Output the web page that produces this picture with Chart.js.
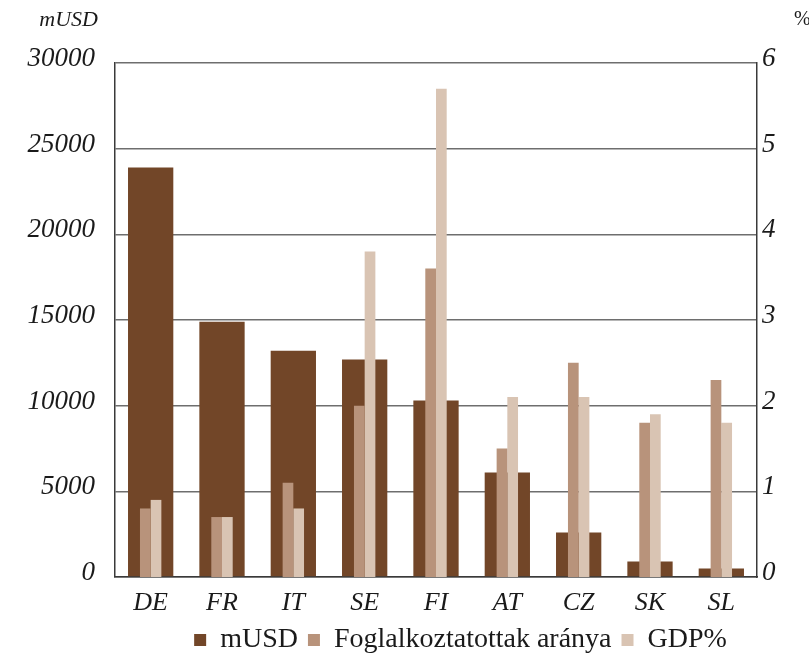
<!DOCTYPE html>
<html>
<head>
<meta charset="utf-8">
<script src="https://cdn.jsdelivr.net/npm/chart.js@4.4.1/dist/chart.umd.min.js"></script>
<style>
  html, body { margin: 0; padding: 0; background: #ffffff; }
  #wrap { width: 809px; height: 654px; }
</style>
</head>
<body>
<div id="wrap"><canvas id="c" width="809" height="654"></canvas></div>
<script>
// Countries on the category axis
const countries = ['DE', 'FR', 'IT', 'SE', 'FI', 'AT', 'CZ', 'SK', 'SL'];

// Left axis: million USD
const musd = [23900, 14900, 13200, 12700, 10300, 6100, 2600, 900, 500];

// Right axis: percentages
const employmentShare = [0.8, 0.7, 1.1, 2.0, 3.6, 1.5, 2.5, 1.8, 2.3];
const gdpShare = [0.9, 0.7, 0.8, 3.8, 5.7, 2.1, 2.1, 1.9, 1.8];

// Axis ranges and steps
const leftMax = 30000, leftStep = 5000;
const rightMax = 6, rightStep = 1;

const serif = "'Liberation Serif', 'Times New Roman', serif";
const textColor = '#1a1a1a';

// Unit captions above both value axes
const unitCaptions = {
  id: 'unitCaptions',
  afterDraw(chart) {
    const { ctx, chartArea } = chart;
    ctx.save();
    ctx.fillStyle = textColor;
    ctx.font = `italic 22px ${serif}`;
    ctx.textBaseline = 'middle';
    ctx.textAlign = 'right';
    ctx.fillText('mUSD', chartArea.left - 17, 20);
    ctx.textAlign = 'left';
    ctx.font = `20px ${serif}`;
    ctx.fillText('%', chartArea.right + 37, 20);
    ctx.restore();
  }
};

// Nudge the legend row a little to the right of the canvas centre
const legendShift = {
  id: 'legendShift',
  afterLayout(chart) {
    const lg = chart.legend;
    if (lg) { lg.left += 56; lg.right += 56; }
  }
};

new Chart(document.getElementById('c'), {
  type: 'bar',
  data: {
    labels: countries,
    datasets: [
      {
        // wide background bar, centred on each category
        label: 'mUSD',
        data: musd,
        backgroundColor: '#724628',
        borderWidth: 0,
        yAxisID: 'y',
        grouped: false,
        categoryPercentage: 1.0,
        barPercentage: 0.635,
        order: 2
      },
      {
        label: 'Foglalkoztatottak aránya',
        data: employmentShare,
        backgroundColor: '#b8937b',
        borderWidth: 0,
        yAxisID: 'y2',
        categoryPercentage: 0.3,
        barPercentage: 1.0,
        order: 0
      },
      {
        label: 'GDP%',
        data: gdpShare,
        backgroundColor: '#d9c4b3',
        borderWidth: 0,
        yAxisID: 'y2',
        categoryPercentage: 0.3,
        barPercentage: 1.0,
        order: 1
      }
    ]
  },
  options: {
    responsive: false,
    animation: false,
    devicePixelRatio: 1,
    layout: { padding: { top: 63, left: 0, right: 0, bottom: -10 } },
    plugins: {
      legend: {
        position: 'bottom',
        labels: {
          boxWidth: 12,
          boxHeight: 12,
          padding: 10,
          color: textColor,
          font: { family: serif, size: 28 },
          sort: (a, b) => a.datasetIndex - b.datasetIndex
        }
      },
      tooltip: { enabled: false }
    },
    scales: {
      x: {
        type: 'category',
        offset: true,
        grid: { display: false },
        border: { display: true, color: '#3a3a3a', width: 1.5 },
        ticks: {
          color: textColor,
          padding: 3,
          font: { family: serif, size: 26, style: 'italic' }
        },
        afterFit(s) { s.height = 39; }
      },
      y: {
        position: 'left',
        min: 0,
        max: leftMax,
        grid: { color: '#6e6e6e', lineWidth: 1.5, drawTicks: false },
        border: { display: true, color: '#3a3a3a', width: 1.5 },
        ticks: {
          stepSize: leftStep,
          color: textColor,
          padding: 20,
          labelOffset: -4,
          font: { family: serif, size: 27, style: 'italic' },
          callback: (v) => String(v)
        },
        afterFit(s) { s.width = 115; }
      },
      y2: {
        position: 'right',
        min: 0,
        max: rightMax,
        grid: { display: false, drawTicks: false },
        border: { display: true, color: '#3a3a3a', width: 1.5 },
        ticks: {
          stepSize: rightStep,
          color: textColor,
          padding: 5,
          labelOffset: -4,
          font: { family: serif, size: 27, style: 'italic' },
          callback: (v) => String(v)
        },
        afterFit(s) { s.width = 52; }
      }
    }
  },
  plugins: [unitCaptions, legendShift]
});
</script>
</body>
</html>
